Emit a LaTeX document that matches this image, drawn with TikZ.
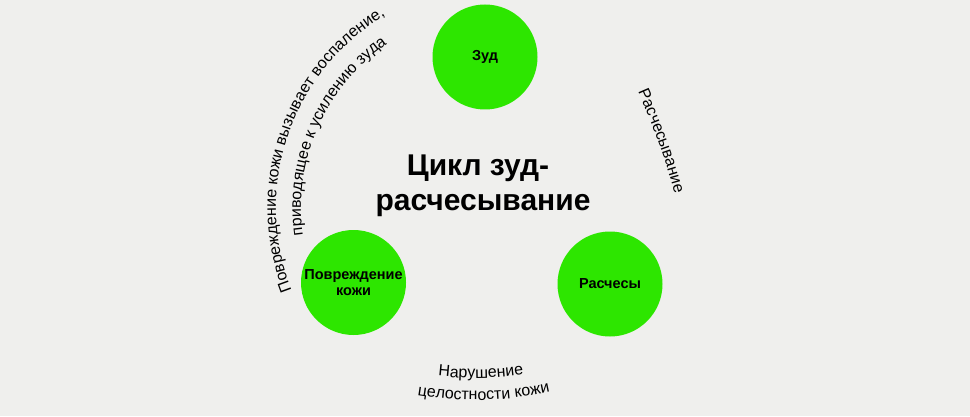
\documentclass[tikz,border=0pt]{standalone}
\usepackage{fontspec}
\setmainfont{Liberation Sans}
\usetikzlibrary{decorations.text}
\definecolor{bg}{RGB}{239,239,237}
\definecolor{leaf}{RGB}{45,230,0}
\begin{document}
\begin{tikzpicture}[x=1pt,y=1pt,
  stage/.style={circle, fill=leaf, minimum size=105pt, inner sep=0pt, align=center,
    font=\bfseries\fontsize{14.5}{16.5}\selectfont},
  titletext/.style={anchor=base, font=\bfseries\fontsize{30}{35}\selectfont},
  arctext/.style={decorate, decoration={text along path, text align=left,
    text={|\fontsize{16}{16}\selectfont|#1}}}
]
\fill[bg] (0,0) rectangle (970,416);
\useasboundingbox (0,0) rectangle (970,416);

\node[stage] (itch) at (485,359) {Зуд};
\node[stage] (damage) at (353.5,133.5) {Повреждение\\кожи};
\node[stage] (scratch) at (610,132) {Расчесы};

\node[titletext] (title1) at (478,241) {Цикл зуд-};
\node[titletext] (title2) at (483,206) {расчесывание};

% left curved captions
\path[arctext={Повреждение кожи вызывает воспаление,}, shift={(500,208)}]
  (201.6:224) arc[start angle=201.6, end angle=100, radius=224];
\path[arctext={приводящее к усилению зуда}, shift={(500,208)}]
  (187.8:199) arc[start angle=187.8, end angle=95, radius=199];

% right caption
\path[arctext={Расчесывание}] (638,324) to[bend left=5] (682,193);

% bottom caption
\path[arctext={Нарушение}, shift={(475,369)}]
  (263.6:331) arc[start angle=263.6, end angle=285, radius=331];
\path[arctext={целостности кожи}, shift={(475,369)}]
  (260.6:353) arc[start angle=260.6, end angle=290, radius=353];
\end{tikzpicture}
\end{document}
